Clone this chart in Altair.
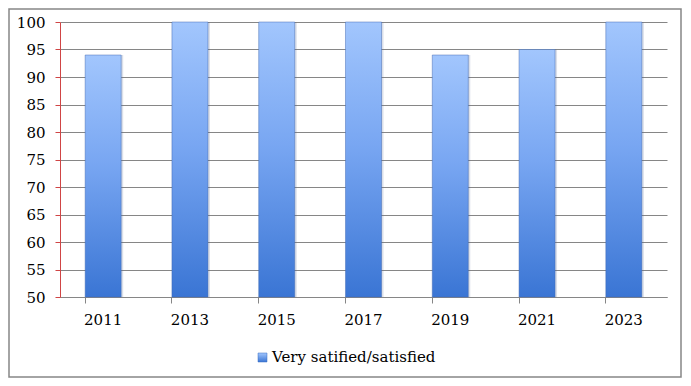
import altair as alt
import pandas as pd

years = ["2011", "2013", "2015", "2017", "2019", "2021", "2023"]
values = [94, 100, 100, 100, 94, 95, 100]
series_name = "Very satified/satisfied"
y_ticks = [50, 55, 60, 65, 70, 75, 80, 85, 90, 95, 100]
y_min, y_max = 50, 100

df = pd.DataFrame({"year": years, "value": values})

FONT = "'DejaVu Serif', 'Liberation Serif', serif"
W, H = 607, 275

grad = alt.Gradient(
    gradient="linear",
    stops=[
        alt.GradientStop(color="#a2c6fd", offset=0),
        alt.GradientStop(color="#78a6f2", offset=0.45),
        alt.GradientStop(color="#3a75d4", offset=1),
    ],
    x1=0, x2=0, y1=0, y2=1,
)

x_enc = alt.X(
    "year:N",
    sort=years,
    scale=alt.Scale(paddingInner=0.585, paddingOuter=0.29),
    axis=alt.Axis(
        title=None, labelAngle=0, labelFont=FONT, labelFontSize=15,
        labelColor="#000000", labelPadding=9, domainColor="#868686",
        tickColor="#868686", tickSize=6, bandPosition=0, grid=False,
    ),
)
y_enc = alt.Y(
    "value:Q",
    scale=alt.Scale(domain=[y_min, y_max], nice=False, zero=False),
    axis=alt.Axis(
        title=None, values=y_ticks, labelFont=FONT, labelFontSize=15,
        labelColor="#000000", labelPadding=10, domainColor="#d04545",
        tickColor="#d04545", tickSize=5, gridColor="#868686", gridWidth=1,
        gridOpacity=1,
    ),
)

shadow = alt.Chart(df).mark_bar(
    color="#5a6f95", opacity=0.22, xOffset=2, clip=True
).encode(x=x_enc, y=y_enc, y2=alt.datum(y_min))

bars = alt.Chart(df).mark_bar(
    color=grad, stroke="#3f68b0", strokeWidth=0.8, strokeOpacity=0.6
).encode(x=x_enc, y=y_enc, y2=alt.datum(y_min))

# chart border
border = alt.Chart(pd.DataFrame({"a": [0]})).mark_rect(
    fill=None, stroke="#868686", strokeWidth=1.5
).encode(
    x=alt.value(-51), x2=alt.value(W + 14),
    y=alt.value(-13), y2=alt.value(H + 80),
)

legend_df = pd.DataFrame({"label": [series_name]})
legend_sym = alt.Chart(legend_df).mark_rect(
    color=alt.Gradient(
        gradient="linear",
        stops=[alt.GradientStop(color="#a2c6fd", offset=0),
               alt.GradientStop(color="#3a75d4", offset=1)],
        x1=0, x2=0, y1=0, y2=1,
    ),
    stroke="#3b6fc0", strokeWidth=0.5,
).encode(
    x=alt.value(198), x2=alt.value(207), y=alt.value(331), y2=alt.value(340),
)
legend_txt = alt.Chart(legend_df).mark_text(
    align="left", baseline="alphabetic", font=FONT, fontSize=15, color="#000000"
).encode(
    x=alt.value(212), y=alt.value(340), text="label:N",
)

chart = alt.layer(shadow, bars, border, legend_sym, legend_txt).properties(
    width=W, height=H,
    autosize=alt.AutoSizeParams(type="none"),
    padding={"left": 52, "top": 14, "right": 16, "bottom": 81},
    background="#ffffff",
).configure_view(stroke=None)

chart.save("out.html", embed_options={"renderer": "svg", "actions": False})
